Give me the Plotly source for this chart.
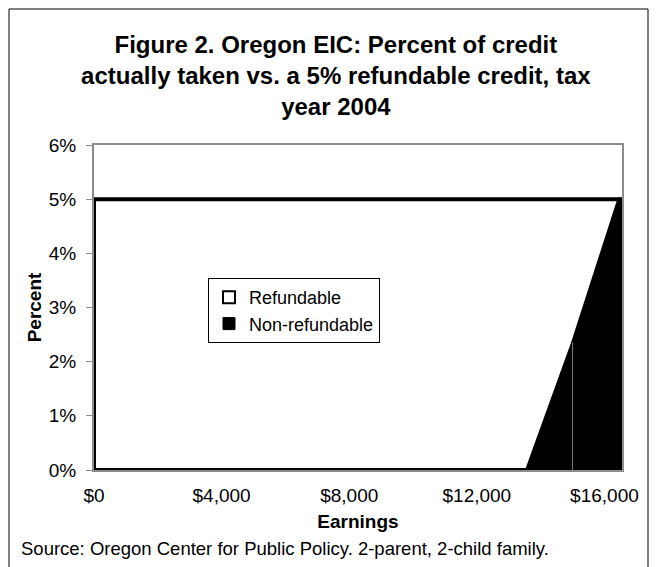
import plotly.graph_objects as go

# ---- data ----
earnings_refundable = [0, 16550]
refundable_pct = [5, 5]

earnings_nonrefundable = [0, 13560, 15000, 16450, 16550]
nonrefundable_pct = [0, 0, 2.35, 5, 5]

x_tick_vals = [0, 4000, 8000, 12000, 16000]
x_tick_text = ["$0", "$4,000", "$8,000", "$12,000", "$16,000"]
y_tick_vals = [0, 1, 2, 3, 4, 5, 6]
y_tick_text = ["0%", "1%", "2%", "3%", "4%", "5%", "6%"]

FONT = "Liberation Sans, Arial, sans-serif"

fig = go.Figure()

# Refundable area (closed polygon so the outline covers every side)
ref_x = [earnings_refundable[0]] + earnings_refundable + [earnings_refundable[-1], earnings_refundable[0]]
ref_y = [0] + refundable_pct + [0, 0]
fig.add_trace(go.Scatter(
    x=ref_x, y=ref_y, mode="lines", fill="toself", fillcolor="white",
    line=dict(color="black", width=4), showlegend=False, hoverinfo="skip"))

# Non-refundable area
non_x = earnings_nonrefundable + [earnings_nonrefundable[-1], earnings_nonrefundable[0]]
non_y = nonrefundable_pct + [0, 0]
fig.add_trace(go.Scatter(
    x=non_x, y=non_y, mode="lines", fill="toself", fillcolor="black",
    line=dict(color="black", width=3), showlegend=False, hoverinfo="skip"))

# seam line where the slope changes
fig.add_trace(go.Scatter(
    x=[earnings_nonrefundable[2], earnings_nonrefundable[2]],
    y=[0, nonrefundable_pct[2]], mode="lines",
    line=dict(color="#7a7a7a", width=1), showlegend=False, hoverinfo="skip"))

# legend entries
fig.add_trace(go.Scatter(
    x=[None], y=[None], mode="markers", name="Refundable",
    marker=dict(symbol="square", size=12, color="white", line=dict(color="black", width=2))))
fig.add_trace(go.Scatter(
    x=[None], y=[None], mode="markers", name="Non-refundable",
    marker=dict(symbol="square", size=12, color="black", line=dict(color="black", width=1))))

L, R, T, B = 94, 34, 145, 97
W, H = 656, 567
pw, ph = W - L - R, H - T - B

def px_x(p):
    return (p - L) / pw

def px_y(p):
    return (H - B - p) / ph

fig.update_layout(
    width=W, height=H,
    margin=dict(l=L, r=R, t=T, b=B),
    paper_bgcolor="white", plot_bgcolor="white",
    font=dict(family=FONT, color="black", size=18),
    title=dict(
        text="<b>Figure 2. Oregon EIC: Percent of credit<br>actually taken vs. a 5% refundable credit, tax<br>year 2004</b>",
        x=0.512, xanchor="center", y=1 - 53 / H, yanchor="top",
        font=dict(family=FONT, size=24, color="black")),
    xaxis=dict(
        range=[earnings_refundable[0], earnings_refundable[-1]],
        tickvals=x_tick_vals, ticktext=x_tick_text, ticks="",
        showgrid=False, zeroline=False,
        showline=True, linecolor="#8c8c8c", linewidth=2, mirror=True,
        tickfont=dict(size=19), ticklabelstandoff=7,
        title=dict(text="<b>Earnings</b>", font=dict(size=19), standoff=10)),
    yaxis=dict(
        range=[0, 6], tickvals=y_tick_vals, ticktext=y_tick_text,
        ticks="outside", ticklen=6, tickcolor="#8c8c8c", tickwidth=1,
        showgrid=False, zeroline=False,
        showline=True, linecolor="#8c8c8c", linewidth=2, mirror=True,
        tickfont=dict(size=19), ticklabelstandoff=6,
        title=dict(text="<b>Percent</b>", font=dict(size=19), standoff=2)),
    legend=dict(
        x=px_x(208), y=px_y(278), xanchor="left", yanchor="top",
        bordercolor="black", borderwidth=1, bgcolor="white",
        font=dict(size=18), itemwidth=30),
    annotations=[dict(
        text="Source: Oregon Center for Public Policy. 2-parent, 2-child family.",
        xref="paper", yref="paper", x=px_x(19), y=px_y(548),
        xanchor="left", yanchor="middle", showarrow=False,
        font=dict(size=18.5))],
    shapes=[dict(
        type="rect", xref="paper", yref="paper",
        x0=px_x(9), x1=px_x(648), y0=px_y(600), y1=px_y(9),
        line=dict(color="black", width=1), fillcolor="rgba(0,0,0,0)", layer="below")],
)

fig.write_html("out.html", config={"displayModeBar": False},
               post_script="document.body.style.margin='0';")
